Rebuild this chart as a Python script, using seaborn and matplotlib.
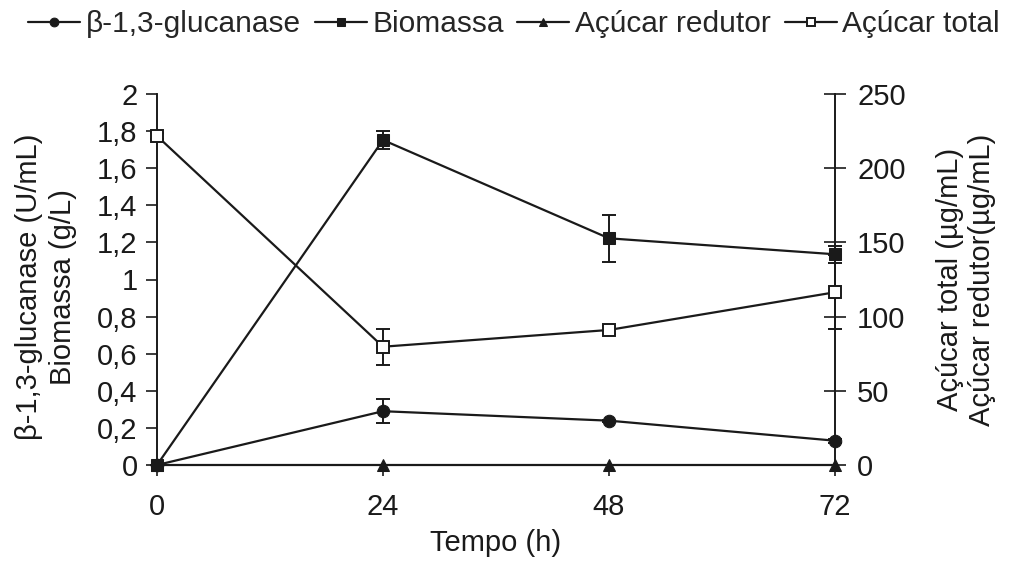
import matplotlib
matplotlib.use("Agg")
import matplotlib.pyplot as plt
import seaborn as sns
import pandas as pd
from matplotlib.ticker import FuncFormatter

# Time course (h) and measured values
tempo = [0, 24, 48, 72]

glucanase = [0.0, 0.29, 0.239, 0.131]          # U/mL
glucanase_err = [0.0, 0.065, 0.006, 0.01]

biomassa = [0.0, 1.752, 1.222, 1.136]          # g/L
biomassa_err = [0.0, 0.05, 0.125, 0.045]

acucar_redutor = [0.0, 0.0, 0.0, 0.0]          # ug/mL
acucar_total = [221.7, 79.7, 91.0, 116.4]      # ug/mL
acucar_total_err = [2.2, 12.0, 3.0, 25.0]

left_ticks = [0, 0.2, 0.4, 0.6, 0.8, 1.0, 1.2, 1.4, 1.6, 1.8, 2.0]
right_ticks = [0, 50, 100, 150, 200, 250]

sns.set_theme(style="ticks")
plt.rcParams["font.family"] = ["Liberation Sans", "DejaVu Sans"]
plt.rcParams["font.size"] = 21

FS = 21
ink = "#1a1a1a"
fig = plt.figure(figsize=(10.12, 5.61), dpi=100)
ax = fig.add_axes([157 / 1012, 1 - 465 / 561, (835 - 157) / 1012, (465 - 94) / 561])
ax2 = ax.twinx()

line_kw = dict(color=ink, linewidth=1.6, markersize=9, clip_on=False, zorder=5)
err_kw = dict(fmt="none", ecolor=ink, elinewidth=1.4, capsize=5, capthick=1.4,
              clip_on=False, zorder=4)

df = pd.DataFrame({"tempo": tempo, "glucanase": glucanase, "biomassa": biomassa,
                   "redutor": acucar_redutor, "total": acucar_total})

# left axis: enzyme activity and biomass
ax.errorbar(tempo, glucanase, yerr=glucanase_err, **err_kw)
ax.errorbar(tempo, biomassa, yerr=biomassa_err, **err_kw)
sns.lineplot(data=df, x="tempo", y="glucanase", marker="o", markeredgecolor=ink,
             markerfacecolor=ink, ax=ax, **line_kw)
sns.lineplot(data=df, x="tempo", y="biomassa", marker="s", markeredgecolor=ink,
             markerfacecolor=ink, ax=ax, **line_kw)

# right axis: sugars
ax2.errorbar(tempo, acucar_total, yerr=acucar_total_err, **err_kw)
sns.lineplot(data=df, x="tempo", y="redutor", marker="^", markeredgecolor=ink,
             markerfacecolor=ink, ax=ax2, **line_kw)
sns.lineplot(data=df, x="tempo", y="total", marker="s", markeredgecolor=ink,
             markerfacecolor="white", markeredgewidth=1.4, ax=ax2, **line_kw)

ax.set_xlim(0, 72)
ax.set_ylim(0, 2)
ax2.set_ylim(0, 250)
ax.set_xticks(tempo)
ax.set_yticks(left_ticks)
ax2.set_yticks(right_ticks)
ax.yaxis.set_major_formatter(FuncFormatter(lambda v, p: f"{v:g}".replace(".", ",")))

for a in (ax, ax2):
    a.spines["top"].set_visible(False)
    for s in a.spines.values():
        s.set_color(ink)
        s.set_linewidth(1.2)
    a.tick_params(colors=ink, labelsize=FS, width=1.2)
ax.tick_params(axis="y", direction="out", length=8, pad=6)
ax.tick_params(axis="x", direction="out", length=8, pad=12)
ax2.tick_params(axis="y", direction="inout", length=16, pad=8)

ax.set_xlabel("Tempo (h)", fontsize=FS, color=ink, labelpad=6)
ax.set_ylabel("β-1,3-glucanase (U/mL)\nBiomassa (g/L)", fontsize=FS, color=ink,
              linespacing=1.25)
ax.yaxis.set_label_coords(-0.118, 0.48)
ax2.set_ylabel("Açúcar total (µg/mL)\nAçúcar redutor(µg/mL)", fontsize=FS, color=ink,
               linespacing=1.15, labelpad=22)

handles = [ax.lines[-2], ax.lines[-1], ax2.lines[-2], ax2.lines[-1]]
labels = ["β-1,3-glucanase", "Biomassa", "Açúcar redutor", "Açúcar total"]
fig.legend(handles, labels, loc="upper center", bbox_to_anchor=(0.508, 1.03), ncol=4,
           frameon=False, fontsize=21.5, handlelength=1.74, handletextpad=0.2,
           columnspacing=0.45, markerscale=0.7)

fig.savefig("out.png", dpi=100)
